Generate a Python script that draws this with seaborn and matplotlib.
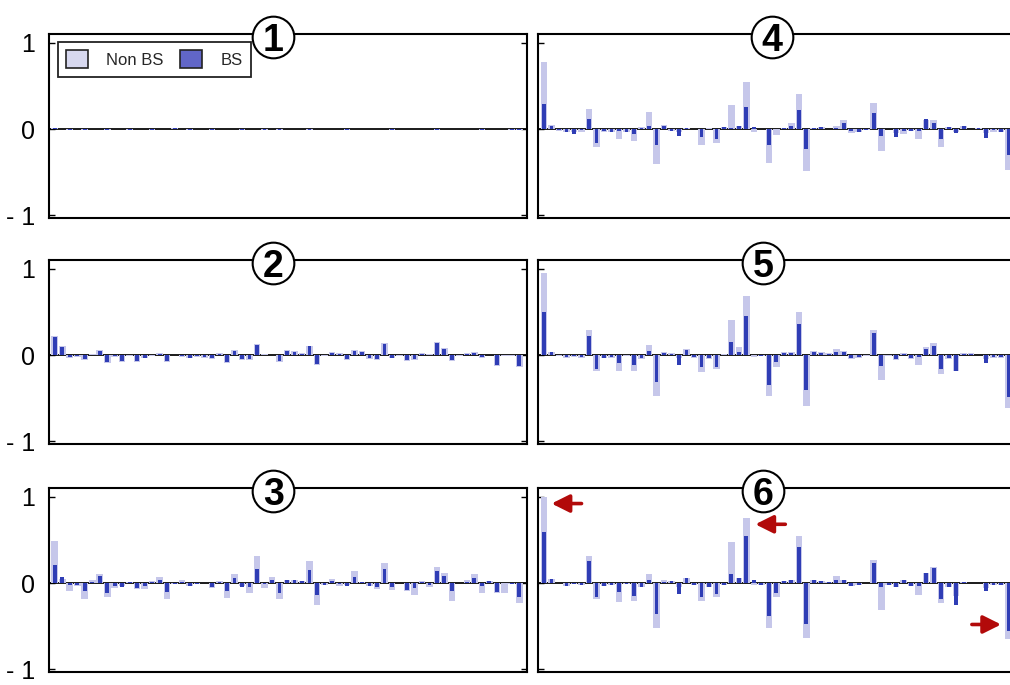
import numpy as np
import pandas as pd
import matplotlib
matplotlib.use("Agg")
import matplotlib.pyplot as plt
from matplotlib.patches import Patch
import seaborn as sns

sns.set_theme(style="white")
plt.rcParams["font.family"] = ["Liberation Sans", "DejaVu Sans"]

# ---------------- data ----------------
panel_labels = ["1", "2", "3", "4", "5", "6"]
series_names = ["Non BS", "BS"]
ytick_values = [-1, 0, 1]
ytick_labels = ["- 1", "0", "1"]

p1_nbs = [0.01, 0.0, -0.01, 0.0, -0.01, 0.0, 0.0, -0.01, 0.0, 0.0,
          -0.01, 0.0, 0.0, -0.01, 0.0, 0.0, 0.01, 0.0, -0.01, 0.0,
          0.0, -0.01, 0.0, 0.0, 0.0, -0.01, 0.0, 0.0, -0.01, 0.0,
          -0.01, 0.0, 0.0, 0.0, -0.01, 0.0, 0.0, 0.0, 0.0, -0.01,
          0.0, 0.0, 0.0, 0.0, 0.0, -0.01, 0.0, 0.0, 0.0, 0.0,
          0.0, -0.01, 0.0, 0.0, 0.0, 0.0, 0.0, -0.01, 0.0, 0.0,
          0.0, -0.01, -0.01]
p1_bs = [0.01, 0.0, -0.01, 0.0, -0.01, 0.0, 0.0, -0.01, 0.0, 0.0,
         -0.01, 0.0, 0.0, -0.01, 0.0, 0.0, 0.01, 0.0, -0.01, 0.0,
         0.0, -0.01, 0.0, 0.0, 0.0, -0.01, 0.0, 0.0, -0.01, 0.0,
         -0.01, 0.0, 0.0, 0.0, -0.01, 0.0, 0.0, 0.0, 0.0, -0.01,
         0.0, 0.0, 0.0, 0.0, 0.0, -0.01, 0.0, 0.0, 0.0, 0.0,
         0.0, -0.01, 0.0, 0.0, 0.0, 0.0, 0.0, -0.01, 0.0, 0.0,
         0.0, -0.01, -0.01]

p2_nbs = [0.22, 0.10, -0.03, -0.02, -0.06, 0.01, 0.06, -0.09, -0.02, -0.08,
          -0.01, -0.08, -0.04, -0.01, 0.02, -0.08, 0.0, -0.02, -0.03, -0.02,
          -0.03, -0.05, 0.02, -0.09, 0.06, -0.06, -0.06, 0.13, 0.01, 0.0,
          -0.08, 0.06, 0.05, 0.02, 0.11, -0.11, -0.01, 0.03, 0.02, -0.06,
          0.06, 0.05, -0.05, -0.06, 0.14, -0.04, -0.01, -0.07, -0.06, 0.02,
          0.01, 0.15, 0.08, -0.07, -0.01, 0.02, 0.03, -0.03, 0.0, -0.13,
          -0.01, -0.01, -0.14]
p2_bs = [0.21, 0.09, -0.02, -0.01, -0.05, 0.0, 0.05, -0.08, -0.01, -0.07,
         0.0, -0.07, -0.03, 0.0, 0.01, -0.07, 0.0, -0.01, -0.03, -0.01,
         -0.02, -0.04, 0.01, -0.08, 0.05, -0.05, -0.05, 0.12, 0.0, 0.0,
         -0.07, 0.05, 0.04, 0.01, 0.10, -0.10, 0.0, 0.02, 0.01, -0.05,
         0.05, 0.04, -0.04, -0.05, 0.13, -0.03, 0.0, -0.06, -0.05, 0.01,
         0.0, 0.14, 0.07, -0.06, 0.0, 0.01, 0.02, -0.02, 0.0, -0.12,
         0.0, 0.0, -0.13]

p3_nbs = [0.49, 0.05, -0.09, -0.03, -0.18, 0.03, 0.10, -0.16, -0.06, -0.03,
          0.01, -0.07, -0.07, 0.02, 0.07, -0.18, -0.01, 0.04, -0.03, -0.01,
          0.0, -0.06, 0.02, -0.17, 0.11, -0.04, -0.12, 0.31, -0.06, 0.07,
          -0.18, 0.04, 0.03, 0.02, 0.25, -0.25, -0.02, 0.05, -0.03, -0.02,
          0.14, 0.01, -0.03, -0.07, 0.23, -0.08, 0.0, -0.09, -0.14, 0.02,
          -0.05, 0.19, 0.12, -0.21, 0.0, 0.04, 0.10, -0.11, 0.02, -0.11,
          -0.11, -0.01, -0.23]
p3_bs = [0.21, 0.07, -0.02, -0.02, -0.09, 0.01, 0.08, -0.11, -0.03, -0.05,
         0.01, -0.06, -0.04, 0.01, 0.03, -0.10, -0.01, 0.01, -0.04, -0.01,
         0.0, -0.05, 0.01, -0.09, 0.06, -0.05, -0.05, 0.16, -0.01, 0.03,
         -0.11, 0.04, 0.03, 0.02, 0.15, -0.14, -0.02, 0.02, -0.01, -0.03,
         0.07, 0.01, -0.04, -0.05, 0.16, -0.05, 0.0, -0.08, -0.06, 0.01,
         -0.02, 0.14, 0.08, -0.09, 0.0, 0.01, 0.06, -0.04, 0.02, -0.10,
         0.0, -0.01, -0.16]

p4_nbs = [0.78, 0.05, -0.02, -0.03, -0.04, -0.03, 0.23, -0.21, -0.03, -0.03,
          -0.11, -0.03, -0.14, 0.02, 0.20, -0.41, 0.05, -0.02, -0.03, 0.01,
          0.0, -0.18, 0.01, -0.16, 0.02, 0.28, 0.03, 0.55, -0.04, 0.0,
          -0.39, -0.07, 0.01, 0.07, 0.41, -0.49, 0.01, 0.02, 0.0, 0.04,
          0.11, -0.05, -0.04, -0.01, 0.30, -0.26, 0.0, -0.05, -0.06, -0.02,
          -0.11, 0.10, 0.10, -0.21, 0.02, -0.04, 0.04, 0.0, 0.01, -0.05,
          -0.03, -0.03, -0.48]
p4_bs = [0.29, 0.04, -0.01, -0.03, -0.06, -0.01, 0.12, -0.16, -0.02, -0.04,
         -0.02, -0.03, -0.06, 0.01, 0.04, -0.18, 0.03, -0.02, -0.08, 0.01,
         0.0, -0.09, 0.0, -0.12, 0.02, 0.01, 0.03, 0.26, 0.02, 0.0,
         -0.19, 0.0, 0.01, 0.04, 0.22, -0.23, 0.01, 0.02, 0.0, 0.01,
         0.07, -0.02, -0.04, -0.01, 0.19, -0.08, 0.0, -0.09, -0.02, -0.02,
         -0.02, 0.12, 0.07, -0.12, 0.02, -0.05, 0.04, 0.0, 0.01, -0.10,
         -0.01, -0.03, -0.30]

p5_nbs = [0.95, 0.04, -0.01, -0.03, -0.02, -0.03, 0.29, -0.19, -0.04, -0.03,
          -0.18, -0.01, -0.18, -0.05, 0.12, -0.48, 0.03, 0.02, -0.04, 0.07,
          -0.03, -0.20, -0.05, -0.16, 0.01, 0.41, 0.09, 0.68, -0.02, -0.01,
          -0.48, -0.14, 0.03, 0.03, 0.50, -0.59, 0.05, 0.03, 0.02, 0.07,
          0.05, -0.05, -0.03, -0.01, 0.29, -0.29, -0.01, -0.06, 0.02, -0.05,
          -0.12, 0.09, 0.14, -0.22, -0.05, -0.18, 0.02, 0.02, 0.0, -0.05,
          -0.03, -0.03, -0.61]
p5_bs = [0.50, 0.03, 0.0, -0.02, -0.01, -0.02, 0.22, -0.16, -0.03, -0.02,
         -0.09, 0.0, -0.12, -0.04, 0.05, -0.31, 0.02, 0.01, -0.11, 0.06,
         -0.02, -0.14, -0.04, -0.14, 0.0, 0.15, 0.04, 0.45, 0.0, -0.01,
         -0.35, -0.08, 0.02, 0.02, 0.36, -0.40, 0.04, 0.02, 0.01, 0.04,
         0.04, -0.04, -0.02, 0.0, 0.25, -0.13, 0.0, -0.05, 0.01, -0.04,
         -0.02, 0.07, 0.10, -0.16, -0.04, -0.18, 0.01, 0.01, 0.0, -0.09,
         -0.02, -0.02, -0.49]

p6_nbs = [1.0, 0.05, 0.0, -0.03, -0.01, -0.02, 0.31, -0.19, -0.04, -0.02,
          -0.22, -0.01, -0.21, -0.05, 0.10, -0.52, 0.03, 0.02, -0.05, 0.06,
          -0.02, -0.21, -0.05, -0.16, -0.02, 0.47, 0.06, 0.75, -0.02, -0.02,
          -0.52, -0.16, 0.02, 0.03, 0.54, -0.64, 0.04, 0.02, 0.01, 0.08,
          0.04, -0.03, -0.02, 0.0, 0.27, -0.31, -0.02, -0.05, 0.04, -0.04,
          -0.14, 0.12, 0.18, -0.23, -0.05, -0.15, 0.01, 0.0, 0.0, -0.06,
          -0.02, -0.02, -0.65]
p6_bs = [0.59, 0.05, 0.0, -0.03, -0.01, -0.02, 0.25, -0.16, -0.04, -0.02,
         -0.10, -0.01, -0.15, -0.05, 0.03, -0.36, 0.01, 0.02, -0.13, 0.06,
         -0.02, -0.16, -0.05, -0.13, -0.02, 0.10, 0.06, 0.54, 0.03, -0.02,
         -0.38, -0.11, 0.02, 0.03, 0.42, -0.47, 0.04, 0.02, 0.01, 0.03,
         0.04, -0.03, -0.02, 0.0, 0.23, -0.05, -0.02, -0.05, 0.04, -0.04,
         -0.03, 0.12, 0.17, -0.18, -0.05, -0.25, 0.01, 0.0, 0.0, -0.09,
         -0.02, -0.02, -0.55]

# arrows in panel 6 (data units)
arrow_tails_x = [5.0, 32.2, 57.1]
arrow_tips_x = [1.0, 28.2, 61.0]
arrow_y = [0.92, 0.68, -0.48]

# ---------------- style ----------------
C_NBS = "#c6c7ea"
C_BS = "#2f3db5"
C_NBS_LEG = "#d7d8ef"
C_BS_LEG = "#6166c8"

W, H = 1010, 685
fig = plt.figure(figsize=(W / 100, H / 100), dpi=100)

col_x = [49 / W, 538.3 / W]
pw = 478 / W
ph = 184 / H
row_tops = [34, 260, 488]

nbs_data = [p1_nbs, p2_nbs, p3_nbs, p4_nbs, p5_nbs, p6_nbs]
bs_data = [p1_bs, p2_bs, p3_bs, p4_bs, p5_bs, p6_bs]
circle_x = [0.469, 0.469, 0.469, 0.489, 0.470, 0.470]

axes = []
for k in range(6):
    col = k // 3
    row = k % 3
    bottom = (H - (row_tops[row] + 184)) / H
    ax = fig.add_axes([col_x[col], bottom, pw, ph])
    axes.append(ax)
    n = len(nbs_data[k])
    df = pd.DataFrame({"idx": np.arange(n), series_names[0]: nbs_data[k],
                       series_names[1]: bs_data[k]})
    ax.axhline(0, color="#1a1a1a", lw=1.4, zorder=0.5)
    sns.barplot(data=df, x="idx", y=series_names[0], ax=ax, native_scale=True,
                width=0.88, color=C_NBS, saturation=1, errorbar=None,
                linewidth=0, zorder=1)
    sns.barplot(data=df, x="idx", y=series_names[1], ax=ax, native_scale=True,
                width=0.5, color=C_BS, saturation=1, errorbar=None,
                linewidth=0, zorder=2)
    ax.set_xlim(-0.77, 63.03)
    ax.set_ylim(-1.03, 1.10)
    ax.set_xlabel("")
    ax.set_ylabel("")
    ax.set_xticks([])
    ax.set_yticks(ytick_values)
    ax.tick_params(axis="y", direction="in", length=4, width=1.0,
                   left=True, right=True, pad=10, labelsize=18,
                   colors="black")
    if col == 0:
        ax.set_yticklabels(ytick_labels)
    else:
        ax.set_yticklabels([])
    for sp in ax.spines.values():
        sp.set_visible(True)
        sp.set_color("black")
        sp.set_linewidth(1.5)
    ax.set_facecolor("white")

    # circled panel number on the top frame
    ax.plot([circle_x[k]], [0.986], transform=ax.transAxes, marker="o",
            ms=30, mfc="white", mec="black", mew=1.5, clip_on=False,
            zorder=10)
    ax.text(circle_x[k], 0.986, panel_labels[k], transform=ax.transAxes,
            ha="center", va="center_baseline", fontsize=27,
            fontweight="bold", color="black", zorder=11, clip_on=False)

# legend in panel 1
handles = [Patch(facecolor=C_NBS_LEG, edgecolor="#222222", linewidth=1.2,
                 label=series_names[0]),
           Patch(facecolor=C_BS_LEG, edgecolor="#222222", linewidth=1.2,
                 label=series_names[1])]
leg = axes[0].legend(handles=handles, loc="upper left",
                     bbox_to_anchor=(0.019, 0.957), borderaxespad=0,
                     ncol=2, fontsize=12, handlelength=1.3, handleheight=1.3,
                     handletextpad=1.1, columnspacing=1.0, borderpad=0.5,
                     fancybox=False, framealpha=1, edgecolor="#222222")
leg.get_frame().set_linewidth(1.3)

# red arrows in panel 6
ax6 = axes[5]
for tx, hx, yy in zip(arrow_tails_x, arrow_tips_x, arrow_y):
    ax6.annotate("", xy=(hx, yy), xytext=(tx, yy),
                 arrowprops=dict(arrowstyle="-|>,head_length=0.9,head_width=0.45",
                                 color="#b20a0a", lw=2.6,
                                 shrinkA=0, shrinkB=0),
                 zorder=12)

fig.savefig("out.png", dpi=100, facecolor="white")
